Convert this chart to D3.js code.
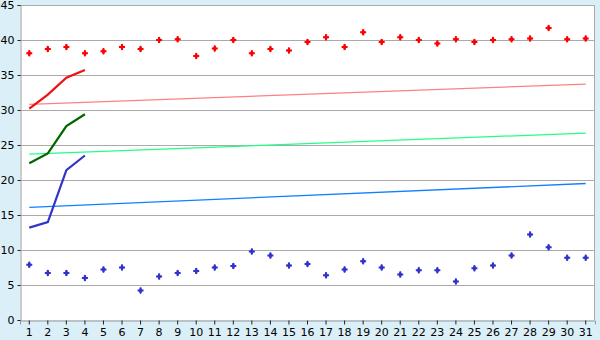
<!DOCTYPE html>
<html>
<head>
<meta charset="utf-8">
<script src="https://cdn.jsdelivr.net/npm/d3@7"></script>
<style>
  body { margin: 0; background: #daeff7; }
  text { font-family: "DejaVu Sans", Verdana, sans-serif; font-size: 11px; fill: #000; }
</style>
</head>
<body>
<script>
var svg_width  = 600;
var svg_height = 340;

// data
var days = d3.range(1, 32);
var highPoints = [38.1, 38.7, 39.0, 38.1, 38.4, 39.0, 38.7, 40.0, 40.1, 37.7,
                  38.8, 40.0, 38.1, 38.7, 38.5, 39.7, 40.4, 39.0, 41.1, 39.7,
                  40.4, 40.0, 39.5, 40.1, 39.7, 40.0, 40.1, 40.2, 41.7, 40.1, 40.2];
var lowPoints  = [7.9, 6.7, 6.7, 6.0, 7.2, 7.5, 4.2, 6.2, 6.7, 7.0,
                  7.5, 7.7, 9.8, 9.2, 7.8, 8.0, 6.4, 7.2, 8.4, 7.5,
                  6.5, 7.1, 7.1, 5.5, 7.4, 7.8, 9.2, 12.2, 10.4, 8.9, 8.9];
var redLine   = [30.2, 32.2, 34.6, 35.7];
var greenLine = [22.4, 23.8, 27.7, 29.4];
var blueLine  = [13.2, 14.0, 21.4, 23.5];
// trend lines: value at day 1 and day 31
var trendRed   = [30.8, 33.7];
var trendGreen = [23.7, 26.7];
var trendBlue  = [16.1, 19.5];
var yTicks = d3.range(0, 50, 5);

var margin = {left: 20, top: 5, right: 5, bottom: 20};
var w = svg_width - margin.left - margin.right;
var h = svg_height - margin.top - margin.bottom;

var svg = d3.select('body').append('svg')
            .attr('width', svg_width)
            .attr('height', svg_height);

var g = svg.append('g').attr('transform', 'translate(' + margin.left + ',' + margin.top + ')');

var x = d3.scaleBand().domain(days).range([0, w]);
var xc = d => x(d) + x.bandwidth() / 2;
var y = d3.scaleLinear().domain([0, 45]).range([h, 0]);

g.append('rect').attr('width', w).attr('height', h).attr('fill', '#fff');

// grid (top one doubles as the frame)
g.append('g').selectAll('line')
  .data(yTicks.filter(t => t > 0))
  .enter().append('line')
  .attr('x1', 0).attr('x2', w)
  .attr('y1', d => Math.round(y(d)) + 0.5).attr('y2', d => Math.round(y(d)) + 0.5)
  .attr('stroke', '#aaa').attr('stroke-width', 1);

g.append('line').attr('x1', w - 0.5).attr('x2', w - 0.5).attr('y1', 0).attr('y2', h)
  .attr('stroke', '#aaa');

// axes
var yAxis = g.append('g').attr('transform', 'translate(0.5,0)')
  .call(d3.axisLeft(y).tickValues(yTicks).tickSize(3).tickPadding(3));
var xAxis = g.append('g').attr('transform', 'translate(0,' + (h + 0.5) + ')')
  .call(d3.axisBottom(x).tickSize(4).tickPadding(4));
[xAxis, yAxis].forEach(function(a) {
  a.selectAll('path').attr('stroke', '#999');
  a.selectAll('line').attr('stroke', '#222');
  a.selectAll('text').style('font-size', '11px').style('font-family', '"DejaVu Sans", Verdana, sans-serif');
});

// trend lines
var trends = [[trendRed, '#ff8080'], [trendGreen, '#22ff88'], [trendBlue, '#1080ff']];
trends.forEach(function(t) {
  g.append('line')
    .attr('x1', xc(days[0])).attr('x2', xc(days[days.length - 1]))
    .attr('y1', y(t[0][0])).attr('y2', y(t[0][1]))
    .attr('stroke', t[1]).attr('stroke-width', 1.3);
});

// short lines
var line = d3.line().x((d, i) => xc(days[i])).y(d => y(d));
[[redLine, '#ee1111'], [greenLine, '#006600'], [blueLine, '#3333cc']].forEach(function(s) {
  g.append('path').datum(s[0])
    .attr('d', line)
    .attr('fill', 'none')
    .attr('stroke', s[1]).attr('stroke-width', 2.2);
});

// markers: small plus over a diamond
var cross = d3.symbol().type(d3.symbolCross).size(20);
var diamond = d3.symbol().type(d3.symbolDiamond).size(14);
[[highPoints, '#ff0000'], [lowPoints, '#3333cc']].forEach(function(s) {
  var m = g.append('g').selectAll('g')
    .data(s[0])
    .enter().append('g')
    .attr('transform', (d, i) => 'translate(' + xc(days[i]) + ',' + y(d) + ')')
    .attr('fill', s[1]);
  m.append('path').attr('d', cross);
  m.append('path').attr('d', diamond);
});
</script>
</body>
</html>
